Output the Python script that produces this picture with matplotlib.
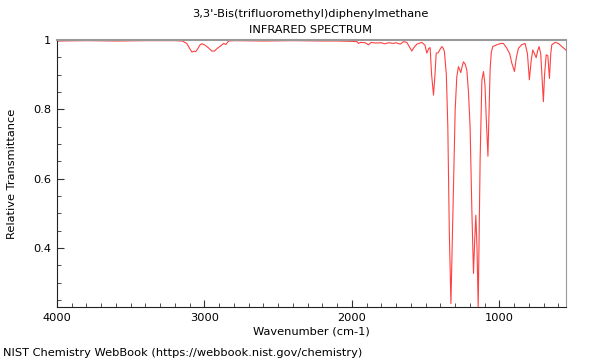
import matplotlib
matplotlib.use("Agg")
import matplotlib.pyplot as plt
from matplotlib.ticker import MultipleLocator, FuncFormatter

# spectrum (wavenumber cm-1, relative transmittance)
wavenumber = [
    4000, 3800, 3600, 3400, 3200, 3150, 3120, 3100, 3085, 3070, 3060, 3045,
    3030, 3017, 3000, 2975, 2950, 2932, 2915, 2893, 2870, 2855, 2837, 2800,
    2600, 2400, 2200, 2100, 2000, 1965, 1956, 1940, 1910, 1888, 1870, 1840,
    1800, 1780, 1750, 1720, 1700, 1673, 1650, 1628, 1610, 1594, 1580, 1560,
    1526, 1505, 1492, 1480, 1470, 1460, 1447, 1437, 1429, 1415, 1400, 1390,
    1380, 1373, 1360, 1350, 1340, 1329, 1318, 1310, 1300, 1289, 1278, 1270,
    1262, 1252, 1244, 1232, 1221, 1210, 1199, 1187, 1176, 1168, 1160, 1152,
    1144, 1137, 1131, 1119, 1108, 1098, 1090, 1078, 1070, 1063, 1055, 1045,
    1018, 990, 973, 950, 930, 916, 898, 885, 871, 850, 826, 810,
    797, 785, 774, 762, 751, 740, 731, 720, 710, 702, 694, 683,
    672, 661, 652, 645, 622, 600, 577, 560, 550,
]
transmittance = [
    0.997, 0.998, 0.997, 0.998, 0.998, 0.997, 0.990, 0.975, 0.965, 0.968, 0.966, 0.975,
    0.986, 0.989, 0.986, 0.978, 0.968, 0.968, 0.975, 0.982, 0.990, 0.987, 0.997, 0.998,
    0.997, 0.998, 0.997, 0.997, 0.996, 0.995, 0.990, 0.993, 0.992, 0.986, 0.993, 0.991,
    0.992, 0.989, 0.992, 0.990, 0.992, 0.988, 0.995, 0.993, 0.980, 0.968, 0.978, 0.988,
    0.993, 0.985, 0.962, 0.975, 0.978, 0.900, 0.841, 0.900, 0.962, 0.963, 0.975, 0.981,
    0.975, 0.966, 0.900, 0.750, 0.450, 0.240, 0.450, 0.600, 0.800, 0.894, 0.923, 0.915,
    0.906, 0.925, 0.937, 0.930, 0.913, 0.850, 0.750, 0.510, 0.327, 0.420, 0.495, 0.400,
    0.230, 0.450, 0.654, 0.885, 0.909, 0.870, 0.780, 0.665, 0.800, 0.918, 0.965, 0.981,
    0.986, 0.990, 0.990, 0.976, 0.960, 0.933, 0.909, 0.950, 0.976, 0.986, 0.990, 0.960,
    0.885, 0.940, 0.971, 0.960, 0.949, 0.970, 0.981, 0.960, 0.880, 0.822, 0.900, 0.957,
    0.955, 0.889, 0.960, 0.986, 0.993, 0.990, 0.981, 0.975, 0.971,
]

footer = "NIST Chemistry WebBook (https://webbook.nist.gov/chemistry)"

plt.rcParams['font.family'] = 'DejaVu Sans'
plt.rcParams['font.size'] = 8.2

fig = plt.figure(figsize=(6, 3.6), dpi=100)
ax = fig.add_axes([0.095, 0.147, 0.848, 0.742])
ax.plot(wavenumber, transmittance, color='#ff2020', lw=0.8, alpha=0.85)

ax.set_xlim(4000, 550)
ax.set_ylim(min(transmittance), 1.0)

ax.xaxis.set_major_locator(MultipleLocator(1000))
ax.xaxis.set_minor_locator(MultipleLocator(100))
ax.yaxis.set_major_locator(MultipleLocator(0.2))
ax.yaxis.set_minor_locator(MultipleLocator(0.05))
ax.yaxis.set_major_formatter(FuncFormatter(lambda v, p: '%g' % round(v, 2)))
ax.tick_params(which='both', direction='in', top=False, right=False, color='#333333')
ax.tick_params(which='major', length=5, width=0.8, pad=4)
ax.tick_params(which='minor', length=3, width=0.6)

for s in ('top', 'right'):
    ax.spines[s].set_color('#999999')
ax.spines['top'].set_linewidth(1.5)
for s in ('left', 'bottom'):
    ax.spines[s].set_color('#222222')

ax.set_xlabel('Wavenumber (cm-1)', labelpad=3)
ax.set_ylabel('Relative Transmittance', labelpad=12)
fig.text(0.518, 0.962, "3,3'-Bis(trifluoromethyl)diphenylmethane", ha='center', va='center')
fig.text(0.518, 0.917, "INFRARED SPECTRUM", ha='center', va='center')
fig.text(0.005, 0.02, footer, ha='left', va='center')

fig.savefig('out.png', dpi=100)
